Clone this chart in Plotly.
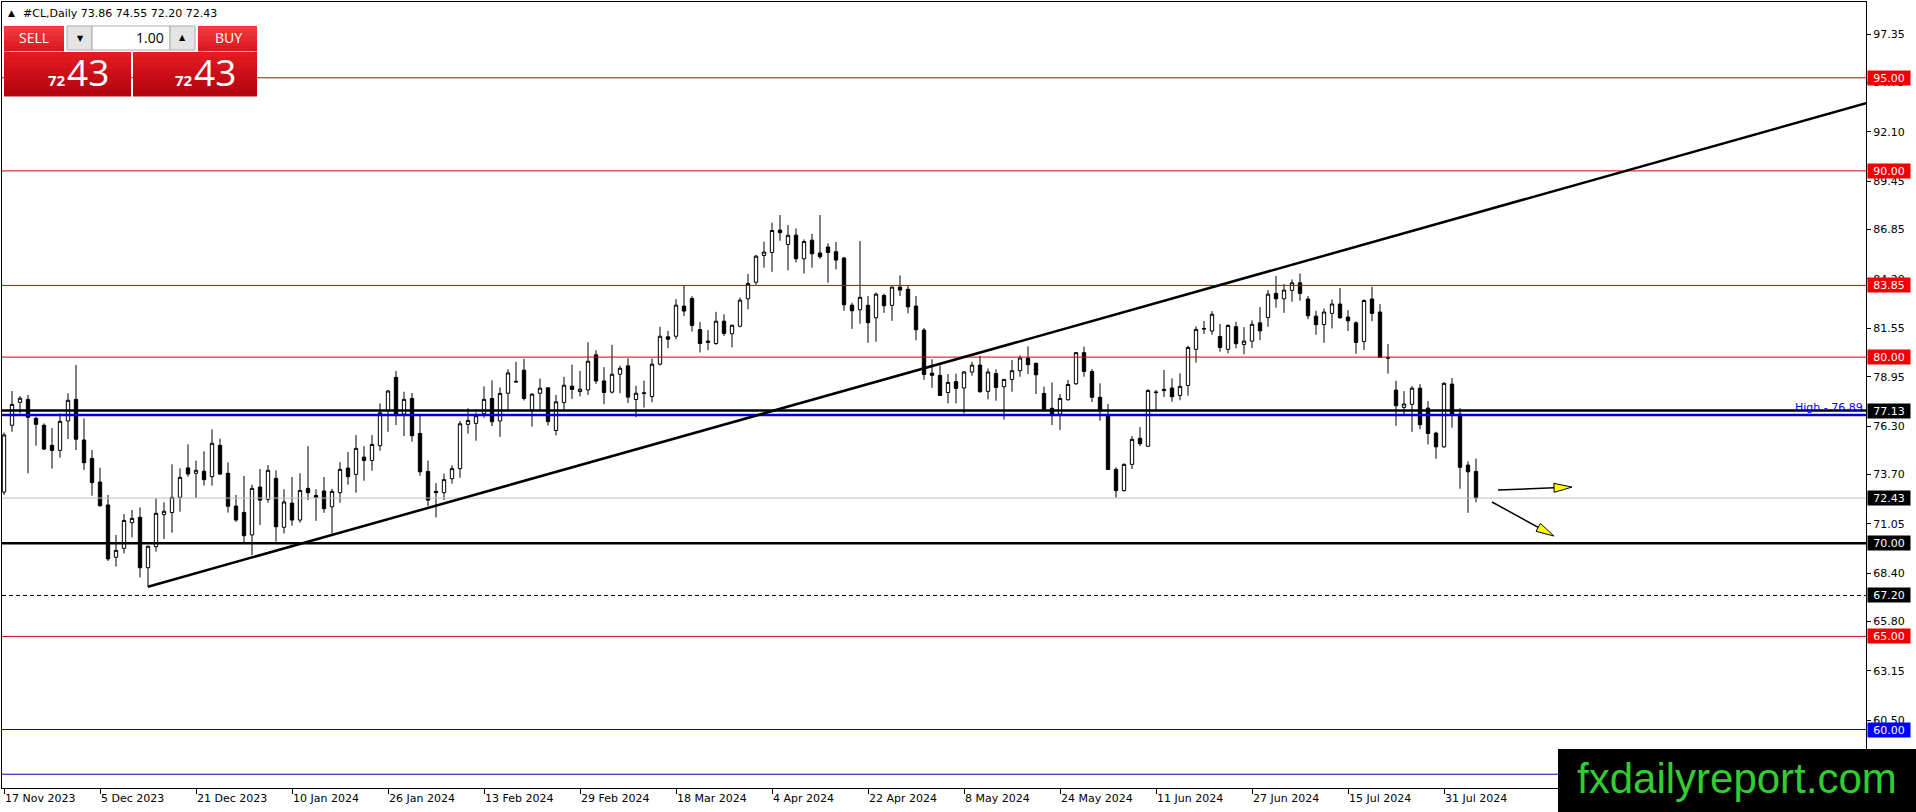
import pandas as pd
import plotly.graph_objects as go

# canvas and plot area in pixels
W, H = 1916, 812
ML, MR, MT, MB = 2, 50, 2, 24
PW, PH = W - ML - MR, H - MT - MB

# daily bars, the holidays below have no bar on this feed
holidays = ["2023-12-25", "2024-01-01", "2024-03-29"]
days = pd.bdate_range("2023-11-17", "2024-08-06")
dates = [d.strftime("%Y-%m-%d") for d in days if d.strftime("%Y-%m-%d") not in holidays]

opens = [72.75, 76.34, 77.57, 77.73, 76.71, 76.34, 75.26, 74.99, 76.57, 77.73,
         75.55, 74.56, 73.29, 72.06, 69.25, 69.73, 71.11, 71.40, 68.69, 69.82,
         71.54, 71.65, 72.47, 74.05, 73.76, 73.87, 73.58, 75.26, 73.76, 72.00,
         71.66, 70.45, 73.02, 72.36, 73.49, 70.86, 72.16, 71.25, 72.95, 72.57,
         72.81, 71.96, 72.72, 74.04, 73.70, 74.63, 74.45, 75.24, 77.12, 78.91,
         76.94, 77.78, 75.90, 73.86, 72.79, 72.72, 73.47, 74.01, 76.39, 76.44,
         76.96, 77.78, 76.57, 78.06, 78.70, 79.30, 77.17, 78.06, 78.35, 76.06,
         77.56, 78.44, 78.15, 78.24, 80.12, 78.72, 78.12, 79.08, 79.53, 77.72,
         78.04, 77.88, 79.62, 81.09, 81.12, 82.74, 83.15, 81.48, 80.86, 80.73,
         81.93, 81.25, 81.66, 83.13, 84.02, 85.46, 85.62, 86.82, 86.05, 86.55,
         85.28, 86.28, 85.59, 85.91, 85.66, 85.32, 82.79, 82.54, 82.78, 82.11,
         83.31, 82.78, 83.76, 83.64, 82.74, 81.45, 79.14, 79.02, 78.10, 78.69,
         78.34, 79.20, 79.57, 78.16, 79.12, 78.41, 78.80, 79.27, 79.95, 79.66,
         78.05, 77.25, 76.94, 77.71, 78.57, 80.24, 79.23, 77.84, 76.89, 73.97,
         72.83, 74.24, 75.64, 75.21, 78.09, 78.27, 78.34, 77.94, 78.48, 80.42,
         81.54, 81.40, 81.11, 80.42, 81.63, 80.68, 80.86, 81.84, 82.13, 83.42,
         83.13, 83.58, 83.99, 83.12, 82.20, 81.75, 82.35, 82.85, 82.15, 81.84,
         80.84, 83.12, 82.42, 79.98, 78.23, 77.30, 77.46, 78.33, 77.26, 75.92,
         75.18, 78.55, 76.94, 74.20, 73.86]

highs = [75.95, 78.18, 77.91, 77.97, 76.80, 76.44, 76.19, 76.98, 78.06, 79.58,
         76.71, 75.01, 74.06, 72.60, 70.45, 71.57, 71.79, 71.93, 69.88, 72.42,
         72.20, 74.24, 74.03, 75.32, 74.44, 74.94, 76.12, 75.62, 74.35, 72.60,
         73.62, 73.15, 73.99, 74.20, 73.92, 72.90, 73.56, 73.76, 75.22, 72.90,
         73.56, 72.93, 74.36, 74.90, 75.81, 75.22, 75.81, 77.51, 78.23, 79.25,
         78.14, 78.07, 76.89, 74.45, 73.24, 73.74, 74.19, 76.57, 77.25, 77.03,
         78.43, 78.75, 78.37, 79.35, 79.75, 79.91, 78.06, 78.85, 78.38, 77.97,
         78.94, 79.60, 79.26, 80.80, 80.37, 79.46, 80.66, 79.53, 79.94, 78.46,
         78.74, 79.92, 81.63, 81.41, 83.11, 83.86, 83.27, 81.89, 81.45, 82.43,
         82.30, 81.75, 83.20, 84.47, 85.49, 86.20, 87.22, 87.63, 87.09, 86.91,
         86.32, 86.62, 87.63, 86.11, 86.18, 85.39, 82.92, 86.23, 83.28, 83.47,
         83.40, 83.78, 84.39, 83.85, 83.28, 81.56, 79.88, 79.55, 79.09, 79.11,
         79.25, 79.75, 80.07, 79.39, 79.34, 78.82, 79.84, 80.09, 80.58, 79.72,
         78.41, 78.64, 78.02, 78.77, 80.27, 80.56, 79.36, 78.59, 77.48, 74.08,
         74.29, 75.76, 76.24, 78.27, 78.23, 79.31, 78.86, 79.13, 80.61, 81.65,
         81.94, 82.47, 81.78, 81.76, 81.90, 81.61, 81.97, 82.69, 83.60, 84.35,
         83.92, 84.17, 84.49, 83.28, 82.49, 82.61, 83.10, 83.71, 82.52, 81.92,
         83.10, 83.78, 82.85, 80.70, 78.73, 78.17, 78.44, 78.55, 77.64, 75.99,
         78.66, 78.87, 77.26, 74.40, 74.55]

lows = [72.60, 75.99, 76.98, 73.76, 75.24, 75.01, 74.01, 74.60, 75.60, 75.01,
        73.94, 72.56, 71.97, 69.05, 68.75, 69.46, 70.32, 68.17, 67.67, 69.55,
        70.23, 70.57, 71.70, 73.58, 72.43, 73.10, 73.10, 73.67, 71.65, 71.16,
        70.00, 69.37, 70.98, 72.18, 70.09, 70.53, 70.95, 71.11, 72.32, 71.21,
        71.64, 70.53, 72.18, 73.15, 72.72, 73.36, 73.90, 74.97, 75.99, 76.35,
        75.76, 75.46, 73.63, 72.00, 71.39, 72.32, 73.20, 73.52, 75.89, 75.51,
        76.74, 76.30, 75.72, 77.17, 78.64, 77.67, 76.27, 77.17, 76.33, 75.79,
        77.17, 77.76, 77.89, 77.97, 78.56, 77.47, 78.04, 78.06, 77.53, 76.77,
        77.29, 77.58, 79.55, 80.48, 80.96, 82.20, 81.37, 80.25, 80.37, 80.66,
        81.14, 80.52, 81.60, 82.57, 83.84, 84.80, 84.58, 86.25, 84.66, 85.09,
        84.49, 84.80, 85.28, 83.99, 84.71, 82.49, 81.52, 81.79, 80.77, 80.82,
        82.38, 81.95, 83.28, 82.35, 80.90, 78.78, 78.35, 77.91, 77.51, 77.51,
        76.98, 79.00, 78.09, 77.73, 77.66, 76.65, 78.14, 78.95, 79.09, 78.02,
        77.10, 76.35, 76.08, 77.66, 78.50, 78.95, 77.59, 76.58, 73.93, 72.45,
        72.77, 73.99, 75.22, 75.19, 77.12, 77.86, 77.60, 77.68, 77.93, 79.70,
        81.24, 81.20, 80.29, 80.20, 80.47, 80.15, 80.49, 80.91, 81.63, 82.65,
        82.38, 82.97, 83.03, 82.04, 81.20, 80.77, 81.54, 82.06, 81.40, 80.18,
        80.38, 81.93, 79.95, 79.11, 76.31, 76.89, 75.99, 76.13, 75.31, 74.54,
        75.13, 76.21, 72.93, 71.64, 72.20]

closes = [75.82, 77.46, 77.79, 76.77, 76.39, 75.06, 74.99, 76.55, 77.68, 75.59,
          74.33, 73.26, 72.02, 69.16, 69.62, 71.23, 71.34, 68.69, 69.84, 71.61,
          71.72, 72.47, 73.54, 73.72, 73.92, 73.42, 75.37, 73.72, 71.99, 71.25,
          70.41, 72.95, 72.32, 73.92, 70.89, 72.22, 71.25, 72.84, 72.72, 72.47,
          71.86, 72.79, 73.97, 73.58, 75.10, 74.45, 75.31, 77.01, 78.18, 76.92,
          77.73, 75.78, 73.84, 72.32, 72.72, 73.42, 74.01, 76.42, 76.60, 76.85,
          77.73, 76.53, 78.05, 79.15, 78.67, 77.78, 78.01, 78.33, 76.54, 77.60,
          78.49, 78.26, 78.28, 79.78, 78.72, 78.10, 79.08, 79.40, 77.85, 78.06,
          78.08, 79.62, 81.12, 80.96, 82.79, 82.47, 81.70, 80.73, 80.80, 81.93,
          81.27, 81.71, 83.06, 83.95, 85.42, 85.64, 86.80, 86.68, 86.54, 85.28,
          86.21, 85.55, 85.39, 85.62, 85.21, 82.81, 82.49, 83.21, 81.85, 83.38,
          82.76, 83.76, 83.60, 82.70, 81.47, 79.07, 79.02, 77.94, 78.64, 78.32,
          79.20, 79.57, 78.14, 79.20, 78.37, 78.80, 79.27, 79.95, 79.59, 79.05,
          77.14, 76.94, 77.78, 78.53, 80.24, 79.23, 77.84, 77.12, 73.97, 72.83,
          74.24, 75.58, 75.35, 78.21, 78.12, 78.20, 77.87, 78.43, 80.52, 81.49,
          81.51, 82.30, 80.52, 81.70, 80.72, 80.86, 81.76, 81.41, 83.38, 83.13,
          83.60, 83.99, 83.42, 82.22, 81.74, 82.42, 82.85, 82.11, 81.95, 80.79,
          83.04, 82.35, 79.98, 79.95, 77.39, 77.48, 78.33, 76.37, 75.90, 75.18,
          78.59, 76.94, 74.08, 73.84, 72.43]

tick_dates = ["2023-11-17", "2023-12-05", "2023-12-21", "2024-01-10", "2024-01-26",
              "2024-02-13", "2024-02-29", "2024-03-18", "2024-04-04", "2024-04-22",
              "2024-05-08", "2024-05-24", "2024-06-11", "2024-06-27", "2024-07-15",
              "2024-07-31"]
tick_text = ["17 Nov 2023", "5 Dec 2023", "21 Dec 2023", "10 Jan 2024", "26 Jan 2024",
             "13 Feb 2024", "29 Feb 2024", "18 Mar 2024", "4 Apr 2024", "22 Apr 2024",
             "8 May 2024", "24 May 2024", "11 Jun 2024", "27 Jun 2024", "15 Jul 2024",
             "31 Jul 2024"]
price_ticks = [60.50, 63.15, 65.80, 68.40, 71.05, 73.70, 76.30, 78.95,
               81.55, 84.20, 86.85, 89.45, 92.10, 94.75, 97.35]

# horizontal levels drawn on the chart
level_prices = [95.00, 90.00, 83.85, 80.00, 77.13, 72.43, 70.00, 67.20, 65.00, 60.00]
level_kinds = ["red", "red", "red", "red", "black", "bid", "black", "dash", "red", "blue"]
high_level = 76.89
low_blue_level = 57.60

# trend line anchors (extended to the right edge)
trend_dates = ["2023-12-13", "2024-06-05"]
trend_prices = [67.67, 82.42]

# the two hand drawn arrows: (bar position, price)
arrow_from = [(186.75, 72.86), (186.0, 72.22)]
arrow_to = [(196.0, 73.02), (193.75, 70.39)]

x_lo, x_hi = -0.25, 232.75
y_lo, y_hi = 56.86, 99.07

STYLE = {
    "red": dict(color="#d40000", width=1, dash="solid", box="#f00000"),
    "black": dict(color="#000000", width=2.5, dash="solid", box="#000000"),
    "bid": dict(color="#c0c0c0", width=1, dash="solid", box="#000000"),
    "dash": dict(color="#000000", width=1, dash="4px,3px", box="#000000"),
    "blue": dict(color="#0000cc", width=1, dash="solid", box="#0000ff"),
}
FONT = "DejaVu Sans"


def to_px(i, p):
    return (ML + (i - x_lo) / (x_hi - x_lo) * PW,
            MT + (y_hi - p) / (y_hi - y_lo) * PH)


def paper(X, Y):
    return (X - ML) / PW, 1 - (Y - MT) / PH


fig = go.Figure()
fig.add_trace(go.Candlestick(
    x=dates, open=opens, high=highs, low=lows, close=closes,
    increasing=dict(line=dict(color="black", width=1), fillcolor="white"),
    decreasing=dict(line=dict(color="black", width=1), fillcolor="black"),
    whiskerwidth=0, showlegend=False, hoverinfo="x+y",
))

shapes = []
annotations = []

# levels and their price boxes on the axis
for price, kind in zip(level_prices + [high_level, low_blue_level],
                       level_kinds + ["highblue", "blue"]):
    st = STYLE.get(kind, dict(color="#0000dd", width=2.5, dash="solid", box=None))
    shapes.append(dict(type="line", xref="paper", x0=0, x1=1, yref="y", y0=price, y1=price,
                       line=dict(color=st["color"], width=st["width"], dash=st["dash"])))
    if kind in STYLE and price != low_blue_level:
        annotations.append(dict(xref="paper", x=1, xanchor="left", xshift=1, yref="y", y=price,
                                yanchor="middle", text=f"{price:.2f}", showarrow=False,
                                bgcolor=st["box"], width=40, height=12, borderpad=1,
                                font=dict(family=FONT, size=11, color="white")))

annotations.append(dict(xref="paper", x=1, xanchor="right", xshift=-1, yref="y", y=high_level,
                        yanchor="middle", yshift=8, text=f"High - {high_level:.2f}",
                        showarrow=False, font=dict(family=FONT, size=11, color="#0000ff")))

# trend line as a ray
i0, i1 = dates.index(trend_dates[0]), dates.index(trend_dates[1])
slope = (trend_prices[1] - trend_prices[0]) / (i1 - i0)
shapes.append(dict(type="line", xref="x", yref="y", x0=i0, y0=trend_prices[0],
                   x1=x_hi, y1=trend_prices[0] + slope * (x_hi - i0),
                   line=dict(color="black", width=2.5)))

# arrows with yellow heads
for (a, b), (c, d) in zip(arrow_from, arrow_to):
    X0, Y0 = to_px(a, b)
    X1, Y1 = to_px(c, d)
    L = ((X1 - X0) ** 2 + (Y1 - Y0) ** 2) ** 0.5
    ux, uy = (X1 - X0) / L, (Y1 - Y0) / L
    nx, ny = -uy, ux
    bx, by = X1 - 18 * ux, Y1 - 18 * uy
    p0 = paper(X0, Y0)
    pb = paper(bx, by)
    shapes.append(dict(type="line", xref="paper", yref="paper", x0=p0[0], y0=p0[1],
                       x1=pb[0], y1=pb[1], line=dict(color="black", width=1.5)))
    pts = [paper(X1, Y1), paper(bx + 4.5 * nx, by + 4.5 * ny), paper(bx - 4.5 * nx, by - 4.5 * ny)]
    path = "M {:.5f},{:.5f} L {:.5f},{:.5f} L {:.5f},{:.5f} Z".format(*pts[0], *pts[1], *pts[2])
    shapes.append(dict(type="path", xref="paper", yref="paper", path=path,
                       fillcolor="#ffff00", line=dict(color="black", width=1)))


def rect(x0, y0, x1, y1, fill, line=None):
    a = paper(x0, y0)
    b = paper(x1, y1)
    shapes.append(dict(type="rect", xref="paper", yref="paper", x0=a[0], y0=a[1], x1=b[0], y1=b[1],
                       fillcolor=fill, line=dict(width=1 if line else 0, color=line or fill),
                       layer="above"))


def red_block(x0, y0, x1, y1, top, bottom, n=8):
    step = (y1 - y0) / n
    for k in range(n):
        t = k / (n - 1)
        col = "rgb({},{},{})".format(*[round(top[j] + (bottom[j] - top[j]) * t) for j in range(3)])
        rect(x0, y0 + k * step, x1, y0 + (k + 1) * step + 0.5, col)


def label(X, Y, text, size, color, anchor="center", family="Open Sans", weight="normal"):
    px_, py_ = paper(X, Y)
    annotations.append(dict(xref="paper", yref="paper", x=px_, y=py_, xanchor=anchor,
                            yanchor="middle", text=text, showarrow=False,
                            font=dict(family=family, size=size, color=color, weight=weight)))


# one-click trading panel
red_block(4, 26, 64, 51, (238, 60, 62), (222, 24, 32), n=5)
red_block(198, 26, 257, 51, (238, 60, 62), (222, 24, 32), n=5)
red_block(4, 52, 131, 96, (226, 26, 34), (180, 4, 14))
red_block(133, 52, 257, 96, (226, 26, 34), (180, 4, 14))
rect(10, 51, 62, 52, "#f4b0b0")
rect(204, 51, 254, 52, "#f4b0b0")
rect(67, 26, 92, 50, "#e4e4e4", "#adadad")
rect(92, 26, 170, 50, "#ffffff", "#adadad")
rect(170, 26, 195, 50, "#e4e4e4", "#adadad")
label(34, 38, "SELL", 14, "white")
label(228, 38, "BUY", 14, "white")
label(166, 38, "1.00", 14, "black", anchor="right")
label(80, 39, "▼", 8, "black", family=FONT)
label(182, 38, "▲", 8, "black", family=FONT)
bid_big = f"{closes[-1]:.2f}".split(".")
for off in (0, 127):
    label(46 + off, 80, bid_big[0], 15, "white", anchor="left", weight="bold")
    label(65 + off, 72, bid_big[1], 37, "white", anchor="left")

# chart header
label(11, 13, "▲", 9, "black", family=FONT)
label(21, 13, "#CL,Daily {:.2f} {:.2f} {:.2f} {:.2f}".format(opens[-1], highs[-1], lows[-1], closes[-1]),
      11, "black", anchor="left", family=FONT)

# watermark
rect(1558, 749, 1917, 813, "black")
label(1737, 778, "fxdailyreport.com", 42, "#33cc33", family="Liberation Sans")

fig.update_layout(
    width=W, height=H,
    margin=dict(l=ML, r=MR, t=MT, b=MB),
    paper_bgcolor="white", plot_bgcolor="white",
    showlegend=False, boxgap=0.4,
    shapes=shapes, annotations=annotations,
    font=dict(family=FONT, size=11, color="black"),
)
fig.update_xaxes(
    type="category", range=[x_lo, x_hi], rangeslider=dict(visible=False),
    tickmode="array", tickvals=tick_dates, ticktext=tick_text,
    ticklabelposition="outside right", ticks="outside", ticklen=5, tickcolor="black",
    showgrid=False, zeroline=False, showline=True, mirror=True, linecolor="black", linewidth=1,
    tickfont=dict(family=FONT, size=11, color="black"),
)
fig.update_yaxes(
    side="right", range=[y_lo, y_hi], tickmode="array", tickvals=price_ticks,
    ticktext=[f"{v:.2f}" for v in price_ticks], ticks="outside", ticklen=4, tickcolor="black",
    showgrid=False, zeroline=False, showline=True, mirror=True, linecolor="black", linewidth=1,
    tickfont=dict(family=FONT, size=11, color="black"),
)

# the page has a default body margin, drop it so the figure sits at the window origin
fig.write_html("out.html", config=dict(displayModeBar=False),
               post_script="document.body.style.margin='0';document.body.style.overflow='hidden';")
